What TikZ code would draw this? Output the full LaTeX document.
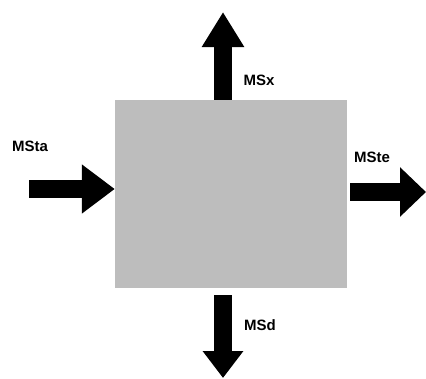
\documentclass[tikz,border=0pt]{standalone}
\usepackage{fontspec}
\setmainfont{Liberation Sans}
\usepackage{tikz}
\usetikzlibrary{arrows.meta}

\tikzset{
  flow/.style 2 args={line width=18pt, color=black,
    -{Triangle[length=#1pt, width=#2pt]}},
  tag/.style={font=\fontsize{15}{17}\selectfont\bfseries, inner sep=0pt}
}

\begin{document}
\begin{tikzpicture}[x=1pt,y=-1pt]
\useasboundingbox (0,0) rectangle (426,378);
\definecolor{boxColor}{RGB}{189,189,189}
\node[fill=boxColor, inner sep=0pt, minimum width=232pt, minimum height=188pt] (box) at (231,194) {};
\coordinate (x out) at (223,12);
\coordinate (ta in) at (29,189);
\coordinate (te out) at (426,192);
\coordinate (d out) at (223,378);
\draw[flow={35}{40}] (box.north -| x out) -- (x out);
\draw[flow={33}{47}] (ta in) -- (box.west |- ta in);
\draw[flow={26}{48}] ([xshift=3pt]box.east |- te out) -- (te out);
\draw[flow={27}{39}] ([yshift=-7pt]box.south -| d out) -- (d out);
\node[tag] (lbl x) at (259,80) {MSx};
\node[tag] (lbl ta) at (30,146) {MSta};
\node[tag] (lbl te) at (372,157) {MSte};
\node[tag] (lbl d) at (260,325) {MSd};
\end{tikzpicture}
\end{document}
